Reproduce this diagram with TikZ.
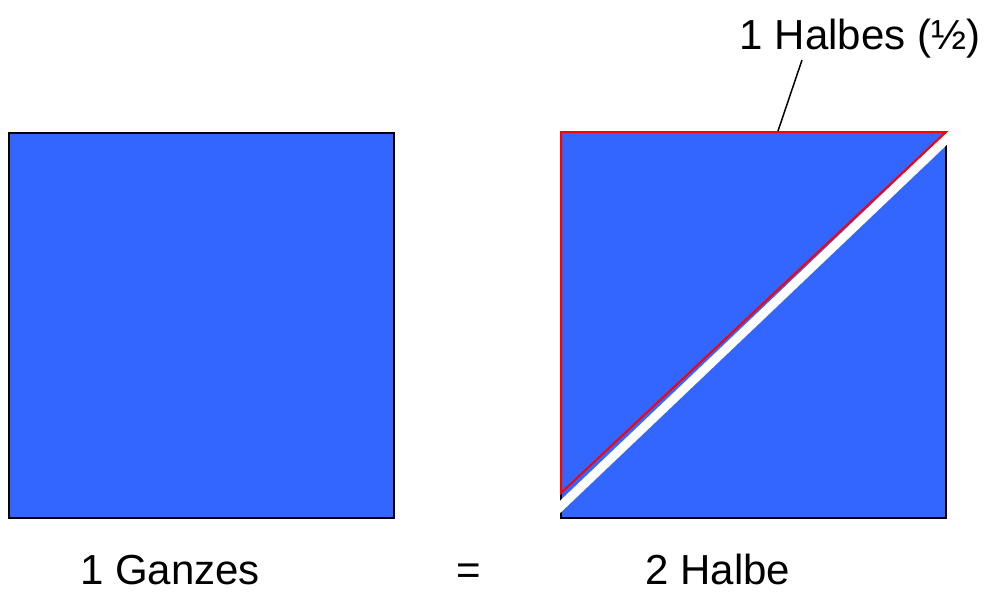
\documentclass[tikz,border=0pt]{standalone}
\usepackage{fontspec}
\setmainfont{Liberation Sans}
\definecolor{fillblue}{HTML}{3366FF}
\tikzset{
  sq/.style={fill=fillblue, draw=black, line width=2pt},
  half/.style={fill=fillblue, draw=red, line width=2pt, line join=miter},
  lbl/.style={font=\fontsize{42}{48}\selectfont, anchor=base, inner sep=0pt, text depth=0pt},
  gap/.style={draw=white, line width=9pt},
  pointer/.style={draw=black, line width=1.5pt}
}
\begin{document}
\begin{tikzpicture}[x=1pt,y=-1pt]
\useasboundingbox (0,0) rectangle (985,594);
% left square
\draw[sq] (9,133) rectangle (394,518);
% right square
\draw[sq] (561,132) rectangle (946,518);
\draw[gap] (550,516.5) -- (957,129);
\draw[half] (561,132) -- (946,132) -- (561,493) -- cycle;
% labels
\node[lbl] (whole) at (170,584) {1 Ganzes};
\node[lbl] (eq) at (469,584) {=};
\node[lbl] (halves) at (718,584) {2 Halbe};
\node[lbl] (onehalf) at (860,50) {1 Halbes (½)};
\coordinate (tip) at (778,131);
\coordinate (pstart) at (802,60);
\draw[pointer] (pstart) -- (tip);
\end{tikzpicture}
\end{document}
